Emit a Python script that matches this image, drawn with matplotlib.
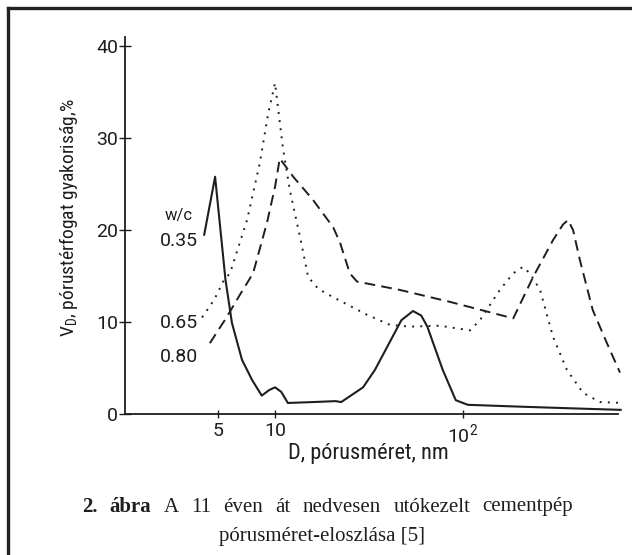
import numpy as np
import matplotlib
matplotlib.use("Agg")
import matplotlib.pyplot as plt
from matplotlib import font_manager
from matplotlib.lines import Line2D

# pore size D (nm) and volume frequency V_D (%)
d_035 = [4.2, 4.8, 5.45, 5.9, 6.67, 7.55, 8.5, 9.3, 10.0, 10.8, 11.7, 16.0, 21.0, 22.5,
         29.4, 34.0, 39.5, 47.0, 54.2, 60.0, 64.6, 78.0, 91.5, 106.0, 200.0, 400.0, 690.0]
v_035 = [19.5, 25.8, 14.6, 9.9, 5.9, 3.7, 2.0, 2.6, 2.9, 2.4, 1.2, 1.3, 1.4, 1.3,
         2.9, 4.8, 7.3, 10.2, 11.2, 10.7, 9.5, 4.8, 1.5, 1.0, 0.8, 0.6, 0.45]

d_065 = [4.09, 4.74, 5.36, 5.76, 7.1, 8.3, 9.2, 10.0, 11.0, 12.0, 13.6, 15.0, 17.0,
         20.4, 30.8, 40.8, 52.0, 75.0, 109.0, 123.0, 157.0, 185.0, 208.0, 227.0, 257.0,
         301.0, 357.0, 435.0, 536.0, 710.0]
v_065 = [10.5, 12.4, 14.6, 15.3, 21.1, 27.3, 32.7, 36.0, 29.0, 24.3, 19.2, 14.9, 13.6,
         12.7, 10.8, 9.7, 9.5, 9.6, 9.1, 10.2, 13.5, 15.3, 16.0, 15.3, 13.5,
         8.4, 4.8, 2.3, 1.3, 1.2]

d_080 = [4.5, 5.48, 6.52, 7.64, 9.06, 10.0, 10.6, 12.5, 15.9, 20.4, 22.2, 25.0, 27.3,
         46.0, 85.0, 185.0, 236.0, 301.0, 340.0, 362.0, 385.0, 419.0, 490.0, 583.0, 684.0]
v_080 = [7.7, 10.4, 13.0, 15.3, 20.8, 24.7, 27.8, 25.8, 23.3, 20.3, 18.6, 15.3, 14.4,
         13.5, 12.2, 10.4, 14.9, 18.9, 20.6, 21.1, 20.0, 16.7, 11.3, 7.7, 4.5]

y_ticks = [0, 10, 20, 30, 40]
x_ticks = [5, 10, 100]
x_tick_labels = ["5", "10", "10$^2$"]

caption_1 = [("2.", "bold"), ("ábra", "bold"), ("A", "normal"), ("11", "normal"),
             ("éven", "normal"), ("át", "normal"), ("nedvesen", "normal"),
             ("utókezelt", "normal"), ("cementpép", "normal")]
caption_2 = "pórusméret-eloszlása [5]"

installed = {f.name for f in font_manager.fontManager.ttflist}
narrow = "DejaVu Sans"
for name in ["Roboto Condensed", "Liberation Sans Narrow", "Roboto"]:
    if name in installed:
        narrow = name
        break
digits = "Roboto" if "Roboto" in installed else "DejaVu Sans"
plt.rcParams["font.family"] = [digits, "DejaVu Sans"]
plt.rcParams["mathtext.default"] = "regular"

W, H = 632, 555
ink = "#1e1e1e"

fig = plt.figure(figsize=(W / 100, H / 100), dpi=100)
fig.patch.set_facecolor("white")

# axes placed by pixel edges of the scan
ax = fig.add_axes([125 / W, 1 - 414 / H, (618 - 125) / W, (414 - 37) / H])
ax.set_xscale("log")
ax.set_xlim(1.592, 667.5)
ax.set_ylim(0, 41)

ax.plot(d_035, v_035, color=ink, lw=1.5, clip_on=False, solid_joinstyle="round")
ax.plot(d_065, v_065, color=ink, lw=1.4, ls=(0, (1, 3.2)), clip_on=False)
ax.plot(d_080, v_080, color=ink, lw=1.4, ls=(0, (5.5, 3.2)), clip_on=False)

for s in ["top", "right"]:
    ax.spines[s].set_visible(False)
for s in ["left", "bottom"]:
    ax.spines[s].set_linewidth(1.3)
    ax.spines[s].set_color(ink)

ax.set_yticks(y_ticks)
ax.set_xticks(x_ticks)
ax.set_xticklabels(x_tick_labels)
ax.xaxis.set_minor_locator(plt.NullLocator())
ax.tick_params(axis="y", direction="inout", length=8, width=1, pad=1,
               labelsize=14, colors=ink)
ax.tick_params(axis="x", direction="inout", length=6, width=1, pad=3,
               labelsize=14, colors=ink)

# curve labels
lab_d = 10 ** (1 + (179 - 275) / 188)
ax.text(lab_d, 21.6, "w/c", fontsize=12, ha="center", va="center", color=ink)
for v, s in [(18.8, "0.35"), (9.9, "0.65"), (6.2, "0.80")]:
    ax.text(lab_d, v, s, fontsize=14, ha="center", va="center", color=ink)

fig.text(368 / W, 1 - 453 / H, "D, pórusméret, nm", fontsize=16, family=narrow,
         ha="center", va="center", color=ink)
fig.text(68 / W, 1 - 218 / H, "V$_D$, pórustérfogat gyakoriság,%", fontsize=14,
         family=narrow, rotation=90, ha="center", va="center", color=ink)

# frame of the scanned page
fig.add_artist(Line2D([8 / W, 1], [1 - 8 / H, 1 - 8 / H], transform=fig.transFigure,
                      color="#222222", lw=2.4))
fig.add_artist(Line2D([8 / W, 8 / W], [0, 1 - 8 / H], transform=fig.transFigure,
                      color="#222222", lw=2.4))

# justified caption, first line spread between the scan's margins
renderer = fig.canvas.get_renderer()
cap_size = 15
texts = []
widths = []
for word, weight in caption_1:
    t = fig.text(0, 1 - 507 / H, word, fontsize=cap_size, fontweight=weight,
                 family="Liberation Serif", ha="left", va="center", color=ink)
    texts.append(t)
    widths.append(t.get_window_extent(renderer).width)
x0, x1 = 82, 573
gap = (x1 - x0 - sum(widths)) / (len(texts) - 1)
x = x0
for t, w in zip(texts, widths):
    t.set_x(x / W)
    x += w + gap
fig.text(322 / W, 1 - 537 / H, caption_2, fontsize=cap_size, family="Liberation Serif",
         ha="center", va="center", color=ink)

fig.savefig("out.png", dpi=100)
